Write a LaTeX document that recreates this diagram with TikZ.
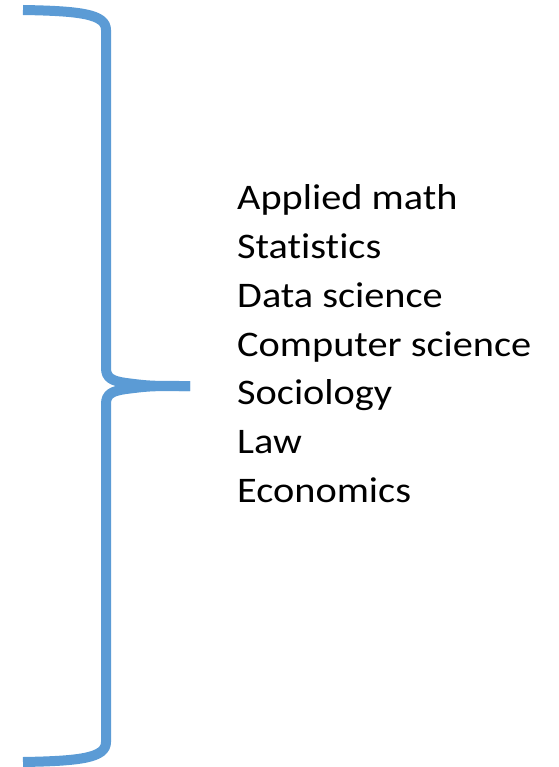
\documentclass[tikz,border=0pt]{standalone}
\usepackage{fontspec}
\setmainfont[Ligatures=NoCommon,FakeStretch=1.12]{Carlito}
\definecolor{braceblue}{HTML}{5B9BD5}
\begin{document}
\begin{tikzpicture}[x=1pt,y=-1pt,
  bracestroke/.style={draw=braceblue,line width=10pt,line cap=butt,line join=round},
  item/.style={anchor=base west,inner sep=0pt,font=\fontsize{36}{40}\selectfont}]
\useasboundingbox (0,0) rectangle (558,767);
\coordinate (tip) at (190,386);
\draw[bracestroke] (23,10) .. controls (80,11) and (106,14) .. (106,30)
  -- (106,368) .. controls (106,378) and (112,381) .. (126,383)
  .. controls (150,386) .. (tip);
\draw[bracestroke] (23,762) .. controls (80,761) and (106,758) .. (106,742)
  -- (106,404) .. controls (106,394) and (112,391) .. (126,389)
  .. controls (150,386) .. (tip);
\node[item] (n1) at (237,210) {Applied math};
\node[item] (n2) at (237,258.7) {Statistics};
\node[item] (n3) at (237,307.4) {Data science};
\node[item] (n4) at (237,356.1) {Computer science};
\node[item] (n5) at (237,404.8) {Sociology};
\node[item] (n6) at (237,453.5) {Law};
\node[item] (n7) at (237,502.2) {Economics};
\end{tikzpicture}
\end{document}
